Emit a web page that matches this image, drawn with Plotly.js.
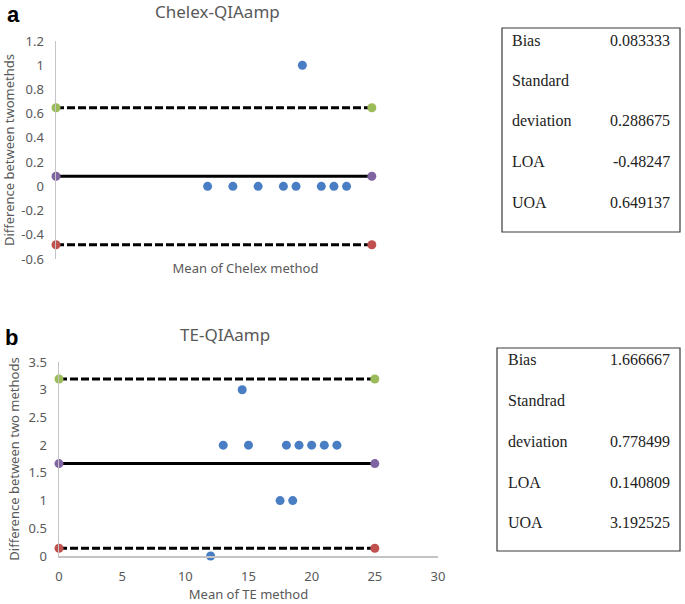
<!DOCTYPE html>
<html>
<head>
<meta charset="utf-8">
<script src="https://cdn.plot.ly/plotly-3.0.1.min.js"></script>
<style>
  body { margin: 0; background: #fff; }
  #plot { width: 685px; height: 604px; }
</style>
</head>
<body>
<div id="plot"></div>
<script>
// panel a: Chelex vs QIAamp
const chelexMean = [12, 14, 16, 18, 19, 21, 22, 23, 19.5];
const chelexDiff = [0, 0, 0, 0, 0, 0, 0, 0, 1];
const chelexBias = 0.083333;
const chelexSd = 0.288675;
const chelexLoa = -0.48247;
const chelexUoa = 0.649137;

// panel b: TE vs QIAamp
const teMean = [14.5, 13, 15, 18, 19, 20, 21, 22, 17.5, 18.5, 12];
const teDiff = [3, 2, 2, 2, 2, 2, 2, 2, 1, 1, 0];
const teBias = 1.666667;
const teSd = 0.778499;
const teLoa = 0.140809;
const teUoa = 3.192525;

const lineEnds = [0, 25];
const topTickVals = [1.2, 1, 0.8, 0.6, 0.4, 0.2, 0, -0.2, -0.4, -0.6];
const topTickText = ['1.2', '1', '0.8', '0.6', '0.4', '0.2', '0', '-0.2', '-0.4', '-0.6'];
const botTickVals = [0, 0.5, 1, 1.5, 2, 2.5, 3, 3.5];
const xTickVals = [0, 5, 10, 15, 20, 25, 30];

const W = 685, H = 604;
const px = v => v / W;
const py = v => 1 - v / H;

const blue = '#4a7ec4';
const green = '#9bbb59';
const purple = '#8064a2';
const red = '#c0504d';
const gray = '#595959';
const font = 'Noto Sans, Open Sans, sans-serif';

function limitTraces(bias, loa, uoa, xa, ya) {
    return [
        {x: lineEnds, y: [uoa, uoa], xaxis: xa, yaxis: ya, type: 'scatter', mode: 'lines+markers', cliponaxis: false,
         line: {color: '#000', width: 3, dash: '8px,3px'}, marker: {color: green, size: 9}},
        {x: lineEnds, y: [bias, bias], xaxis: xa, yaxis: ya, type: 'scatter', mode: 'lines+markers', cliponaxis: false,
         line: {color: '#000', width: 3}, marker: {color: purple, size: 9}},
        {x: lineEnds, y: [loa, loa], xaxis: xa, yaxis: ya, type: 'scatter', mode: 'lines+markers', cliponaxis: false,
         line: {color: '#000', width: 3, dash: '8px,3px'}, marker: {color: red, size: 9}}
    ];
}

const traces = [
    {x: chelexMean, y: chelexDiff, xaxis: 'x', yaxis: 'y', type: 'scatter', mode: 'markers', cliponaxis: false,
     marker: {color: blue, size: 9}},
    ...limitTraces(chelexBias, chelexLoa, chelexUoa, 'x', 'y'),
    {x: teMean, y: teDiff, xaxis: 'x2', yaxis: 'y2', type: 'scatter', mode: 'markers', cliponaxis: false,
     marker: {color: blue, size: 9}},
    ...limitTraces(teBias, teLoa, teUoa, 'x2', 'y2')
];

// the two statistics boxes
function statBox(x0, y0, x1, y1, rowsY, leftX, rightX, labels, values) {
    const shape = {type: 'rect', xref: 'paper', yref: 'paper',
        x0: px(x0), x1: px(x1), y0: py(y0), y1: py(y1),
        line: {color: '#3a3a3a', width: 1.2}, fillcolor: 'rgba(0,0,0,0)'};
    const notes = [];
    labels.forEach((t, i) => {
        notes.push({text: t, x: px(leftX), y: py(rowsY[i]), xref: 'paper', yref: 'paper',
            xanchor: 'left', yanchor: 'middle', showarrow: false,
            font: {family: 'Liberation Serif, Times New Roman, serif', size: 16, color: '#222'}});
        if (values[i] !== '') {
            notes.push({text: values[i], x: px(rightX), y: py(rowsY[i]), xref: 'paper', yref: 'paper',
                xanchor: 'right', yanchor: 'middle', showarrow: false,
                font: {family: 'Liberation Serif, Times New Roman, serif', size: 16, color: '#222'}});
        }
    });
    return {shape, notes};
}

const boxA = statBox(502, 28, 680, 232, [40, 80, 121, 162, 202], 510, 672,
    ['Bias', 'Standard', 'deviation', 'LOA', 'UOA'],
    [String(chelexBias), '', String(chelexSd), String(chelexLoa), String(chelexUoa)]);
const boxB = statBox(497, 348, 680, 551, [359, 400, 441, 482, 522], 506, 672,
    ['Bias', 'Standrad', 'deviation', 'LOA', 'UOA'],
    [String(teBias), '', String(teSd), String(teLoa), String(teUoa)]);

const axisCommon = {showgrid: false, zeroline: false, tickfont: {family: font, size: 13, color: gray}};

const layout = {
    width: W, height: H,
    margin: {l: 0, r: 0, t: 0, b: 0},
    paper_bgcolor: '#fff', plot_bgcolor: 'rgba(0,0,0,0)',
    showlegend: false,
    font: {family: font, color: gray},
    xaxis: {...axisCommon, domain: [px(56), px(435)], range: [0, 30], anchor: 'y',
        showticklabels: false, showline: false, ticks: '',
        title: {text: 'Mean of Chelex method', font: {family: font, size: 13, color: gray}, standoff: 4}},
    yaxis: {...axisCommon, domain: [py(259), py(41)], range: [-0.6, 1.2], anchor: 'x',
        tickvals: topTickVals, ticktext: topTickText, ticklabelstandoff: 8,
        showline: true, linecolor: '#c4c4c4', linewidth: 1.5,
        title: {text: 'Difference between twomethds', font: {family: font, size: 13, color: gray}, standoff: 5}},
    xaxis2: {...axisCommon, domain: [px(59), px(438)], range: [0, 30], anchor: 'y2',
        tickvals: xTickVals, ticklabelstandoff: 8,
        showline: true, linecolor: '#c4c4c4', linewidth: 1.5,
        title: {text: 'Mean of TE method', font: {family: font, size: 13, color: gray}, standoff: 5}},
    yaxis2: {...axisCommon, domain: [py(556), py(362)], range: [0, 3.5], anchor: 'x2',
        tickvals: botTickVals, ticklabelstandoff: 8,
        showline: true, linecolor: '#c4c4c4', linewidth: 1.5,
        title: {text: 'Difference between two methods', font: {family: font, size: 13, color: gray}, standoff: 6}},
    shapes: [boxA.shape, boxB.shape],
    annotations: [
        {text: '<b>a</b>', x: px(13), y: py(14), xref: 'paper', yref: 'paper', showarrow: false,
         xanchor: 'center', yanchor: 'middle',
         font: {family: 'Liberation Sans, Arial, sans-serif', size: 22, color: '#000'}},
        {text: '<b>b</b>', x: px(11), y: py(337), xref: 'paper', yref: 'paper', showarrow: false,
         xanchor: 'center', yanchor: 'middle',
         font: {family: 'Liberation Sans, Arial, sans-serif', size: 22, color: '#000'}},
        {text: 'Chelex-QIAamp', x: px(217), y: py(12), xref: 'paper', yref: 'paper', showarrow: false,
         xanchor: 'center', yanchor: 'middle', font: {family: font, size: 17, color: gray}},
        {text: 'TE-QIAamp', x: px(225), y: py(334), xref: 'paper', yref: 'paper', showarrow: false,
         xanchor: 'center', yanchor: 'middle', font: {family: font, size: 17, color: gray}},
        ...boxA.notes, ...boxB.notes
    ]
};

Plotly.newPlot('plot', traces, layout, {displayModeBar: false, staticPlot: true});
</script>
</body>
</html>
